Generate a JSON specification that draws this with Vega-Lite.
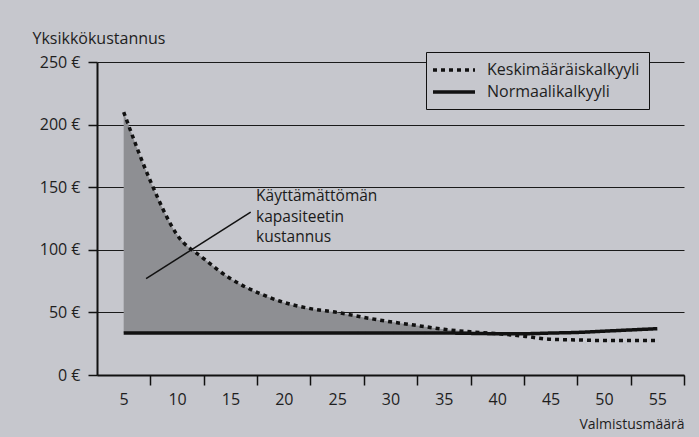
{
  "$schema": "https://vega.github.io/schema/vega-lite/v6.json",
  "width": 587,
  "height": 313,
  "autosize": {"type": "none"},
  "padding": {"left": 97, "top": 62, "right": 15, "bottom": 62},
  "background": "#c6c7cd",
  "config": {"font": "Open Sans", "view": {"stroke": null}},
  "datasets": {
    "curves": [
      {"q": 5, "series": "Keskimääräiskalkyyli", "cost": 210},
      {"q": 7.5, "series": "Keskimääräiskalkyyli", "cost": 155},
      {"q": 10, "series": "Keskimääräiskalkyyli", "cost": 112},
      {"q": 12.5, "series": "Keskimääräiskalkyyli", "cost": 93},
      {"q": 15, "series": "Keskimääräiskalkyyli", "cost": 77},
      {"q": 17.5, "series": "Keskimääräiskalkyyli", "cost": 66},
      {"q": 20, "series": "Keskimääräiskalkyyli", "cost": 58},
      {"q": 22.5, "series": "Keskimääräiskalkyyli", "cost": 53},
      {"q": 25, "series": "Keskimääräiskalkyyli", "cost": 50},
      {"q": 27.5, "series": "Keskimääräiskalkyyli", "cost": 46},
      {"q": 30, "series": "Keskimääräiskalkyyli", "cost": 42.5},
      {"q": 32.5, "series": "Keskimääräiskalkyyli", "cost": 39.5},
      {"q": 35, "series": "Keskimääräiskalkyyli", "cost": 36.5},
      {"q": 37.5, "series": "Keskimääräiskalkyyli", "cost": 34.5},
      {"q": 40, "series": "Keskimääräiskalkyyli", "cost": 33},
      {"q": 42.5, "series": "Keskimääräiskalkyyli", "cost": 31},
      {"q": 45, "series": "Keskimääräiskalkyyli", "cost": 28.5},
      {"q": 47.5, "series": "Keskimääräiskalkyyli", "cost": 28},
      {"q": 50, "series": "Keskimääräiskalkyyli", "cost": 27.5},
      {"q": 52.5, "series": "Keskimääräiskalkyyli", "cost": 27.5},
      {"q": 55, "series": "Keskimääräiskalkyyli", "cost": 27.5},
      {"q": 5, "series": "Normaalikalkyyli", "cost": 33.5},
      {"q": 10, "series": "Normaalikalkyyli", "cost": 33.5},
      {"q": 15, "series": "Normaalikalkyyli", "cost": 33.5},
      {"q": 20, "series": "Normaalikalkyyli", "cost": 33.5},
      {"q": 25, "series": "Normaalikalkyyli", "cost": 33.5},
      {"q": 30, "series": "Normaalikalkyyli", "cost": 33.5},
      {"q": 35, "series": "Normaalikalkyyli", "cost": 33.5},
      {"q": 40, "series": "Normaalikalkyyli", "cost": 33},
      {"q": 42.5, "series": "Normaalikalkyyli", "cost": 33},
      {"q": 45, "series": "Normaalikalkyyli", "cost": 33.5},
      {"q": 47.5, "series": "Normaalikalkyyli", "cost": 34},
      {"q": 50, "series": "Normaalikalkyyli", "cost": 35},
      {"q": 52.5, "series": "Normaalikalkyyli", "cost": 36},
      {"q": 55, "series": "Normaalikalkyyli", "cost": 37}
    ],
    "gap": [
      {"q": 5, "avg": 210, "normal": 33.5},
      {"q": 7.5, "avg": 155, "normal": 33.5},
      {"q": 10, "avg": 112, "normal": 33.5},
      {"q": 12.5, "avg": 93, "normal": 33.5},
      {"q": 15, "avg": 77, "normal": 33.5},
      {"q": 17.5, "avg": 66, "normal": 33.5},
      {"q": 20, "avg": 58, "normal": 33.5},
      {"q": 22.5, "avg": 53, "normal": 33.5},
      {"q": 25, "avg": 50, "normal": 33.5},
      {"q": 27.5, "avg": 46, "normal": 33.5},
      {"q": 30, "avg": 42.5, "normal": 33.5},
      {"q": 32.5, "avg": 39.5, "normal": 33.5},
      {"q": 35, "avg": 36.5, "normal": 33.5},
      {"q": 37.5, "avg": 34.5, "normal": 33.3},
      {"q": 40, "avg": 33, "normal": 33}
    ],
    "note": [{"q": 7.1, "cost": 77, "q2": 16.9, "cost2": 130}],
    "labels": [
      {"q": 17.4, "cost": 143, "text": "Käyttämättömän"},
      {"q": 17.4, "cost": 126, "text": "kapasiteetin"},
      {"q": 17.4, "cost": 110, "text": "kustannus"}
    ]
  },
  "resolve": {"axis": {"x": "independent", "y": "independent"}},
  "layer": [
    {
      "data": {"name": "gap"},
      "mark": {"type": "area", "color": "#8e8f93", "interpolate": "monotone"},
      "encoding": {
        "x": {
          "field": "q", "type": "quantitative",
          "scale": {"domain": [2.5, 57.5], "nice": false, "zero": false},
          "axis": {
            "orient": "bottom",
            "values": [7.5, 12.5, 17.5, 22.5, 27.5, 32.5, 37.5, 42.5, 47.5, 52.5, 57.5],
            "labels": false, "grid": false, "title": null,
            "domain": true, "domainColor": "#111", "domainWidth": 2,
            "ticks": true, "tickSize": 10, "tickColor": "#111", "tickWidth": 1.5
          }
        },
        "y": {
          "field": "avg", "type": "quantitative",
          "scale": {"domain": [0, 250], "nice": false},
          "axis": {
            "values": [0, 50, 100, 150, 200, 250],
            "labelExpr": "datum.value + ' €'",
            "labelFontSize": 16, "labelColor": "#1e1e1e", "labelPadding": 8,
            "tickSize": 9, "tickColor": "#111", "tickWidth": 1.5,
            "domainColor": "#111", "domainWidth": 2,
            "grid": true, "gridColor": "#1a1a1a", "gridWidth": 1.2,
            "title": "Yksikkökustannus", "titleAngle": 0, "titleAlign": "left",
            "titleBaseline": "middle", "titleX": -65, "titleY": -24,
            "titleFontSize": 16, "titleFontWeight": "normal", "titleColor": "#1e1e1e"
          }
        },
        "y2": {"field": "normal"}
      }
    },
    {
      "data": {"name": "curves"},
      "mark": {"type": "line", "interpolate": "monotone", "strokeWidth": 3.5, "color": "#111"},
      "encoding": {
        "x": {
          "field": "q", "type": "quantitative",
          "scale": {"domain": [2.5, 57.5], "nice": false, "zero": false},
          "axis": {
            "orient": "bottom",
            "values": [5, 10, 15, 20, 25, 30, 35, 40, 45, 50, 55],
            "ticks": false, "tickSize": 0, "domain": false, "grid": false,
            "labelFontSize": 16, "labelColor": "#1e1e1e", "labelPadding": 16,
            "title": "Valmistusmäärä", "titleAnchor": "end", "titleAlign": "right",
            "titleBaseline": "top", "titleY": 42, "titleX": 587,
            "titleFontSize": 14, "titleFontWeight": "normal", "titleColor": "#1e1e1e"
          }
        },
        "y": {"field": "cost", "type": "quantitative", "scale": {"domain": [0, 250], "nice": false}, "axis": null},
        "strokeDash": {
          "field": "series", "type": "nominal",
          "scale": {"domain": ["Keskimääräiskalkyyli", "Normaalikalkyyli"], "range": [[4, 4], [1, 0]]},
          "legend": {
            "orient": "none", "legendX": 329, "legendY": -10,
            "title": null, "padding": 9, "strokeColor": "#111", "fillColor": "#c6c7cd",
            "symbolType": "M-3,0H3", "symbolSize": 196, "symbolStrokeWidth": 3.5,
            "symbolStrokeColor": "#111", "symbolOffset": 10,
            "labelFontSize": 16, "labelColor": "#1e1e1e",
            "labelOffset": 24, "rowPadding": 5
          }
        }
      }
    },
    {
      "data": {"name": "note"},
      "mark": {"type": "rule", "color": "#111", "strokeWidth": 1.5},
      "encoding": {
        "x": {"field": "q", "type": "quantitative", "axis": null},
        "y": {"field": "cost", "type": "quantitative", "axis": null},
        "x2": {"field": "q2"},
        "y2": {"field": "cost2"}
      }
    },
    {
      "data": {"name": "labels"},
      "mark": {"type": "text", "align": "left", "baseline": "middle", "fontSize": 15.5, "color": "#1a1a1a"},
      "encoding": {
        "x": {"field": "q", "type": "quantitative", "axis": null},
        "y": {"field": "cost", "type": "quantitative", "axis": null},
        "text": {"field": "text"}
      }
    }
  ]
}
